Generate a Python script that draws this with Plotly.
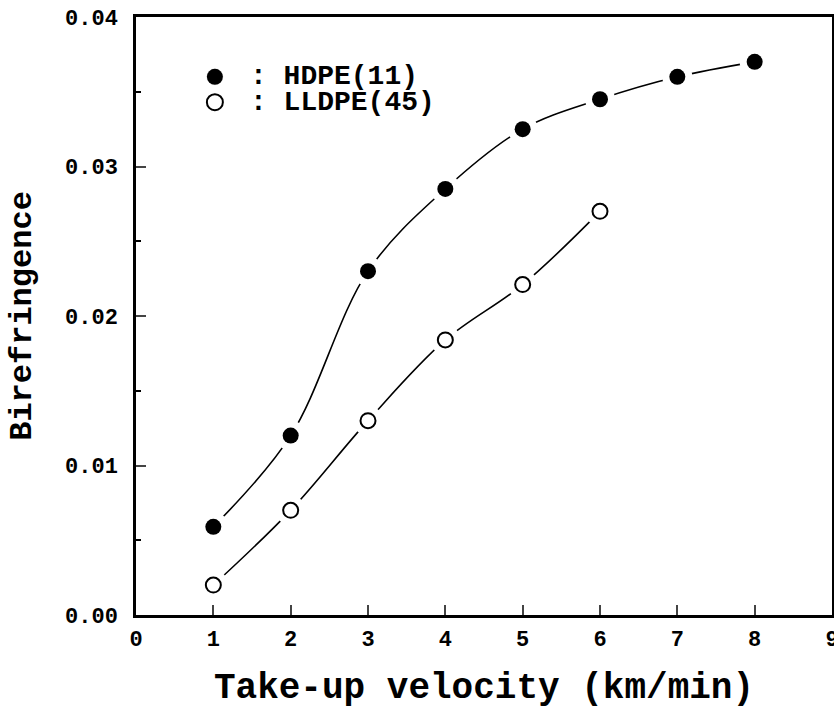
import plotly.graph_objects as go

velocity_hdpe = [1, 2, 3, 4, 5, 6, 7, 8]
biref_hdpe = [0.0059, 0.0120, 0.0230, 0.0285, 0.0325, 0.0345, 0.0360, 0.0370]
velocity_lldpe = [1, 2, 3, 4, 5, 6]
biref_lldpe = [0.0020, 0.0070, 0.0130, 0.0184, 0.0221, 0.0270]
x_ticks = list(range(0, 10))
y_ticks = [0.00, 0.01, 0.02, 0.03, 0.04]
y_tick_labels = ["0.00", "0.01", "0.02", "0.03", "0.04"]
legend_names = [": HDPE(11)", ": LLDPE(45)"]

FONT = "Liberation Mono"
fig = go.Figure()

for xs, ys in [(velocity_hdpe, biref_hdpe), (velocity_lldpe, biref_lldpe)]:
    fig.add_trace(go.Scatter(x=xs, y=ys, mode="lines", line=dict(color="black", width=1.6, shape="spline", smoothing=1.0),
                             showlegend=False, hoverinfo="skip"))
    fig.add_trace(go.Scatter(x=xs, y=ys, mode="markers", marker=dict(size=30, color="white", line=dict(width=0)),
                             showlegend=False, hoverinfo="skip"))

fig.add_trace(go.Scatter(x=velocity_hdpe, y=biref_hdpe, mode="markers", name=legend_names[0], showlegend=False,
                         marker=dict(size=16, color="black", symbol="circle", line=dict(width=0))))
fig.add_trace(go.Scatter(x=velocity_lldpe, y=biref_lldpe, mode="markers", name=legend_names[1], showlegend=False,
                         marker=dict(size=15, color="white", symbol="circle", line=dict(width=2, color="black"))))

# manual legend (symbols as pixel-sized shapes, text as annotations)
legend_rows = [(0.0360, "black", 0), (0.0343, "white", 2)]
for (ly, fill, lw), name in zip(legend_rows, legend_names):
    fig.add_shape(type="circle", xref="x", yref="y", xsizemode="pixel", ysizemode="pixel",
                  xanchor=1.02, yanchor=ly, x0=-8, x1=8, y0=-8, y1=8,
                  fillcolor=fill, line=dict(color="black", width=lw if lw else 0.1))
    fig.add_annotation(x=1.45, y=ly, xref="x", yref="y", text=name, showarrow=False, xanchor="left", yanchor="middle",
                       font=dict(family=FONT, size=28, color="black", weight="bold"))

fig.update_layout(
    width=834, height=709,
    margin=dict(l=136, r=2, t=17, b=94),
    paper_bgcolor="white", plot_bgcolor="white",
    font=dict(family=FONT, color="black"),
    xaxis=dict(range=[0, 9], tickvals=x_ticks, ticks="inside", ticklen=10, tickwidth=2, automargin=False,
               showline=True, linewidth=2.5, linecolor="black", mirror=True, showgrid=False, zeroline=False,
               tickfont=dict(family=FONT, size=22, weight="bold"), ticklabelstandoff=2, ticklabeloverflow="allow",
               title=dict(text="Take-up velocity (km/min)", font=dict(family=FONT, size=36, weight="bold"), standoff=27)),
    yaxis=dict(range=[0, 0.04], tickvals=y_ticks, ticktext=y_tick_labels, ticks="inside", ticklen=10, tickwidth=2,
               automargin=False,
               minor=dict(dtick=0.005, ticks="inside", ticklen=5, tickwidth=1.5, tickcolor="black", showgrid=False),
               showline=True, linewidth=2.5, linecolor="black", mirror=True, showgrid=False, zeroline=False,
               tickfont=dict(family=FONT, size=22, weight="bold"), ticklabelstandoff=11,
               title=dict(text="Birefringence", font=dict(family=FONT, size=32, weight="bold"), standoff=24)),
)

fig.write_html("out.html", config={"displayModeBar": False},
               post_script="document.documentElement.style.margin='0';document.body.style.margin='0';")
